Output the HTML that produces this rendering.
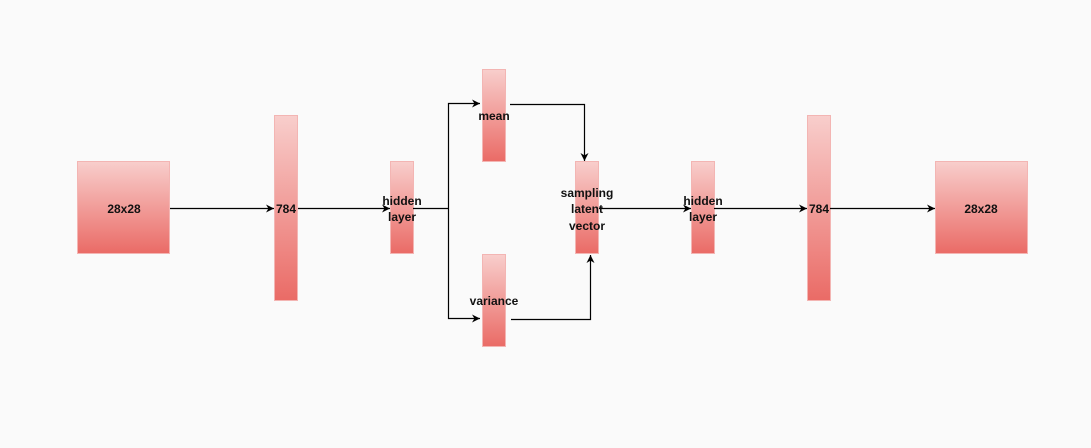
<!DOCTYPE html>
<html><head><meta charset="utf-8"><style>
html,body{margin:0;padding:0;background:#fafafa;}
svg{display:block}
text{font-family:"Liberation Sans",Arial,sans-serif;font-weight:bold;font-size:12px;fill:#111;text-anchor:middle}
</style></head><body>
<svg width="1091" height="448" viewBox="0 0 1091 448" xmlns="http://www.w3.org/2000/svg">
<defs>
<linearGradient id="g" x1="0" y1="0" x2="0" y2="1"><stop offset="0" stop-color="#f8cecc"/><stop offset="1" stop-color="#ea6b66"/></linearGradient>
<marker id="a" viewBox="0 0 10 10" refX="10" refY="5" markerWidth="8" markerHeight="8" orient="auto" markerUnits="userSpaceOnUse"><path d="M0,0 L10,5 L0,10 L3,5 z" fill="#000"/></marker>
</defs>
<rect width="1091" height="448" fill="#fafafa"/>
<g fill="url(#g)" stroke="#f3b5b3" stroke-width="1">
<rect x="77.5" y="161.5" width="92" height="92"/>
<rect x="274.5" y="115.5" width="23" height="185"/>
<rect x="390.5" y="161.5" width="23" height="92"/>
<rect x="482.5" y="69.5" width="23" height="92"/>
<rect x="482.5" y="254.5" width="23" height="92"/>
<rect x="575.5" y="161.5" width="23" height="92"/>
<rect x="691.5" y="161.5" width="23" height="92"/>
<rect x="807.5" y="115.5" width="23" height="185"/>
<rect x="935.5" y="161.5" width="92" height="92"/>
</g>
<g stroke="#000" stroke-width="1.2" fill="none">
<path d="M170 208.5 H274" marker-end="url(#a)"/>
<path d="M298 208.5 H390" marker-end="url(#a)"/>
<path d="M413 208.5 H448.5"/>
<path d="M448.5 208.5 V103.5 H480" marker-end="url(#a)"/>
<path d="M448.5 208.5 V318.5 H480" marker-end="url(#a)"/>
<path d="M510 104.5 H584.5 V161" marker-end="url(#a)"/>
<path d="M511 319.5 H590.5 V255" marker-end="url(#a)"/>
<path d="M599 208.5 H691" marker-end="url(#a)"/>
<path d="M714 208.5 H807" marker-end="url(#a)"/>
<path d="M830 208.5 H935" marker-end="url(#a)"/>
</g>
<text x="124" y="213">28x28</text>
<text x="286" y="213">784</text>
<text x="402" y="205">hidden</text>
<text x="402" y="221">layer</text>
<text x="494" y="120">mean</text>
<text x="494" y="305">variance</text>
<text x="587" y="197">sampling</text>
<text x="587" y="213">latent</text>
<text x="587" y="230">vector</text>
<text x="703" y="205">hidden</text>
<text x="703" y="221">layer</text>
<text x="819" y="213">784</text>
<text x="981" y="213">28x28</text>
</svg>
</body></html>
